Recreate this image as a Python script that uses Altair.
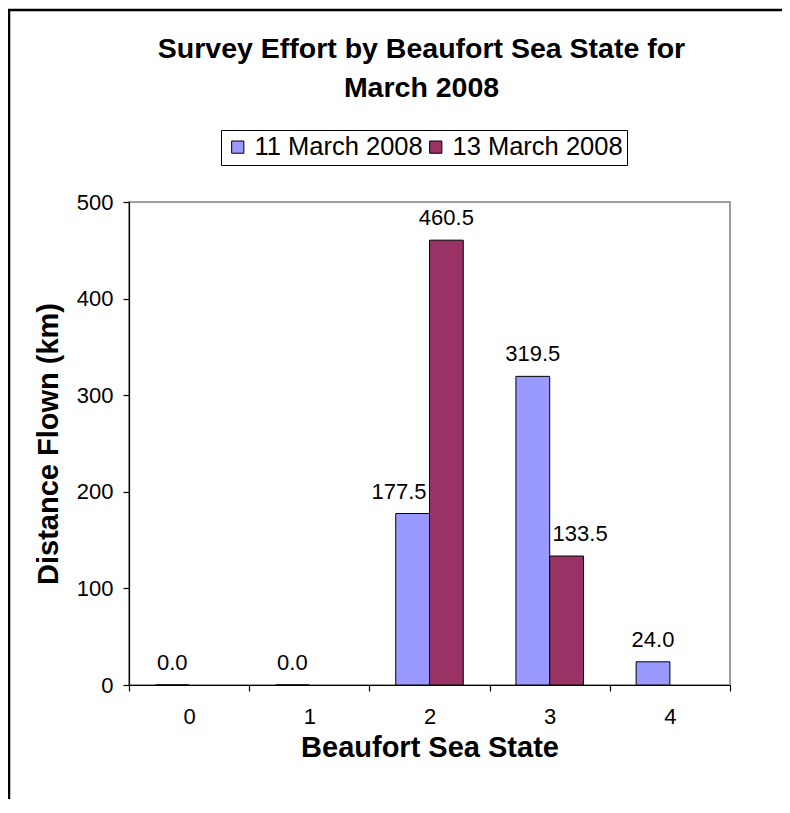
import altair as alt
import pandas as pd

categories = ["0", "1", "2", "3", "4"]
series_names = ["11 March 2008", "13 March 2008"]
mar11 = [0.0, 0.0, 177.5, 319.5, 24.0]
mar13 = [None, None, 460.5, 133.5, None]
colors = ["#9999FF", "#993366"]

rows = []
for i, c in enumerate(categories):
    for s, vals in zip(series_names, [mar11, mar13]):
        v = vals[i]
        if v is None:
            continue
        rows.append({"cat": c, "series": s, "value": v})
df = pd.DataFrame(rows)

# label alignment: shorter bar next to a taller neighbour gets its label pushed away from it
side = []
for _, r in df.iterrows():
    grp = df[df["cat"] == r["cat"]]
    s = "center"
    if len(grp) == 2:
        other = grp[grp["series"] != r["series"]].iloc[0]
        if other["value"] > r["value"]:
            s = "right" if r["series"] == series_names[0] else "left"
    side.append(s)
df["side"] = side

FONT = "Liberation Sans"
W, H = 601, 483
BAR_HALF = 14

x_enc = alt.X("cat:N", sort=categories,
              scale=alt.Scale(paddingInner=0, paddingOuter=0),
              axis=alt.Axis(title="Beaufort Sea State", labelAngle=0, tickBand="extent",
                            tickSize=6, labelPadding=15, titlePadding=6,
                            titleFontSize=29, titleFontWeight="bold", labelFontSize=22))
xo_enc = alt.XOffset("series:N", sort=series_names,
                     scale=alt.Scale(domain=series_names, paddingOuter=0.78, paddingInner=0))
y_enc = alt.Y("value:Q", scale=alt.Scale(domain=[0, 500], nice=False),
              axis=alt.Axis(title="Distance Flown (km)", values=[0, 100, 200, 300, 400, 500],
                            grid=False, tickSize=6, labelPadding=10, titlePadding=13,
                            titleFontSize=29, titleFontWeight="bold", labelFontSize=22))

base = alt.Chart(df)

bars = base.mark_bar(stroke="black", strokeWidth=1).encode(
    x=x_enc, xOffset=xo_enc, y=y_enc,
    fill=alt.Fill("series:N", sort=series_names,
                  scale=alt.Scale(domain=series_names, range=colors),
                  legend=alt.Legend(title=None, orient="none", legendX=92, legendY=-72,
                                    direction="horizontal", strokeColor="black",
                                    fillColor="white", padding=4,
                                    symbolType="square", symbolSize=150,
                                    symbolStrokeColor="black", symbolStrokeWidth=1,
                                    labelFontSize=25.5, labelFont=FONT, labelColor="black",
                                    labelLimit=400,
                                    columnPadding=0, labelOffset=4)),
)

def label_layer(side_value, align, dx):
    return base.transform_filter(alt.datum.side == side_value).mark_text(
        fontSize=22, font=FONT, color="black", align=align, baseline="alphabetic",
        dy=-15, dx=dx
    ).encode(
        x=alt.X("cat:N", sort=categories),
        xOffset=alt.XOffset("series:N", sort=series_names),
        y=alt.Y("value:Q"),
        text=alt.Text("value:Q", format=".1f"),
    )

labels = label_layer("center", "center", 0) + label_layer("right", "right", BAR_HALF) + \
    label_layer("left", "left", -BAR_HALF)

frame = alt.Chart(pd.DataFrame({"k": [0]})).mark_rect(
    fill=None, stroke="black", strokeWidth=2.5
).encode(
    x=alt.value(-120), x2=alt.value(W + 200),
    y=alt.value(-192), y2=alt.value(H + 200),
)

chart = alt.layer(frame, bars, labels).properties(
    width=W, height=H,
    autosize=alt.AutoSizeParams(type="none"),
    padding={"left": 121, "top": 194, "right": 52, "bottom": 114},
    title=alt.Title(["Survey Effort by Beaufort Sea State for", "March 2008"],
                    fontSize=28.5, font=FONT, fontWeight="bold", lineHeight=39,
                    anchor="middle", dx=-8, offset=-123, baseline="bottom", color="black"),
).configure_view(
    stroke="#808080", strokeWidth=1.5
).configure_axis(
    domainColor="black", tickColor="black", labelColor="black", titleColor="black",
    labelFont=FONT, titleFont=FONT, domainWidth=1.2, tickWidth=1.2
)

chart.save("out.html", embed_options={"renderer": "svg", "actions": False})
